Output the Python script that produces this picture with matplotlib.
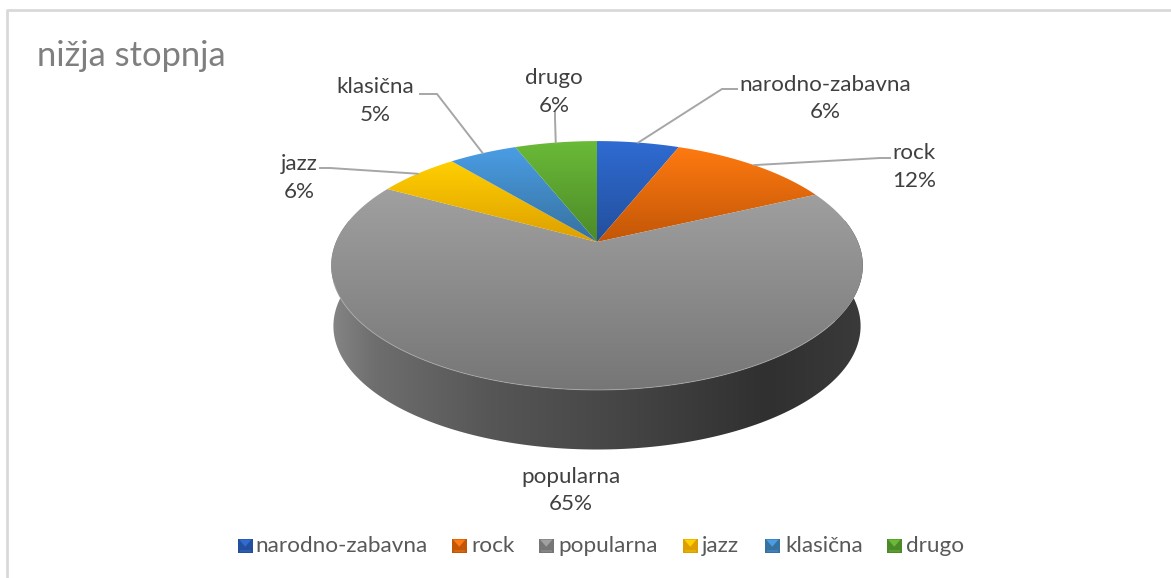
import numpy as np
import matplotlib
matplotlib.use('Agg')
import matplotlib.pyplot as plt
from matplotlib.patches import Polygon, Rectangle
from matplotlib.colors import LinearSegmentedColormap

plt.rcParams['font.family'] = ['Lato', 'DejaVu Sans']

# data
title = 'nižja stopnja'
categories = ['narodno-zabavna', 'rock', 'popularna', 'jazz', 'klasična', 'drugo']
values = [6, 12, 65, 6, 5, 6]

# colours of each slice (top of gradient, bottom of gradient)
top_cols = ['#2f6bd2', '#ff7a10', '#a0a0a0', '#ffcf00', '#4a9de4', '#6aba38']
bot_cols = ['#234f9c', '#c25607', '#767676', '#dd9f00', '#37719f', '#4c8a28']
leg_cols = ['#2a5caf', '#d9660c', '#858585', '#e6b000', '#3f80bd', '#5a9e30']

# pie geometry in pixels
cx, cy = 597, 242
rx, ry, persp = 261, 120, 0.189
depth = 61

# label text centres and elbows, same order as categories
label_xy = [(825, 98.5), (914, 167), (571, 490.5), (299, 178), (375, 101), (554, 92)]
elbow_xy = [(722, 89), (880, 158), None, (330, 168), (437, 94), (555, 118)]
end_xy = [(737, 89), (890, 158), None, (320, 168), (420, 94), (555, 112)]
leg_box_x = [238, 452, 539, 683, 765, 887]
leg_txt_x = [255, 471, 558, 702, 785, 906]


def project(theta, r=1.0, dy=0.0):
    # theta clockwise from 12 o'clock
    u = r * np.sin(theta)
    v = r * np.cos(theta)
    w = 1 + persp * v
    return cx + rx * u / w, cy - ry * v / w + dy


def grad_fill(ax, poly, stops, horizontal=False):
    xs, ys = poly[:, 0], poly[:, 1]
    cmap = LinearSegmentedColormap.from_list('g', stops)
    g = np.linspace(0, 1, 256)
    g = g.reshape(1, -1) if horizontal else g.reshape(-1, 1)
    patch = Polygon(poly, closed=True, fc='none', ec='none')
    ax.add_patch(patch)
    im = ax.imshow(g, cmap=cmap, aspect='auto', origin='upper', interpolation='bilinear',
                   extent=[xs.min(), xs.max(), ys.max(), ys.min()], zorder=2)
    im.set_clip_path(patch)


fig = plt.figure(figsize=(11.71, 5.78), dpi=100)
ax = fig.add_axes([0, 0, 1, 1])

# chart border, only the top and left show in the picture
ax.plot([7, 7, 1171], [578, 10, 10], color='#d9d9d9', lw=2, zorder=1)

# side wall of the disc
th_front = np.linspace(np.pi * 0.44, np.pi * 1.56, 300)
x1, y1 = project(th_front)
x2, y2 = project(th_front, 0.992, depth)
wall = np.vstack([np.column_stack([x1, y1]), np.column_stack([x2, y2])[::-1]])
grad_fill(ax, wall, [(0, '#858585'), (0.08, '#6e6e6e'), (0.3, '#565656'),
                     (0.55, '#454545'), (0.82, '#303030'), (1, '#3a3a3a')], horizontal=True)

# top faces
angles = np.cumsum([0] + values) / sum(values) * 2 * np.pi
mids = (angles[:-1] + angles[1:]) / 2
for i in range(len(values)):
    th = np.linspace(angles[i], angles[i + 1], 200)
    x, y = project(th)
    poly = np.vstack([[cx, cy], np.column_stack([x, y])])
    grad_fill(ax, poly, [top_cols[i], bot_cols[i]])

# light rim at the front edge
th_rim = np.linspace(np.pi * 0.7, np.pi * 1.4, 200)
xr, yr = project(th_rim)
ax.plot(xr, yr, color='#b5b5b5', lw=0.7, alpha=0.6, zorder=3)

# labels and leader lines
for i, name in enumerate(categories):
    ax.text(label_xy[i][0], label_xy[i][1], f'{name}\n{values[i]}%', ha='center', va='center',
            fontsize=16.1, color='#404040', linespacing=1.47, zorder=5)
    if elbow_xy[i] is not None:
        ax0, ay0 = project(mids[i])
        ax.plot([ax0, elbow_xy[i][0], end_xy[i][0]], [ay0, elbow_xy[i][1], end_xy[i][1]],
                color='#a6a6a6', lw=1.4, zorder=4, solid_joinstyle='miter')

# legend
for i, name in enumerate(categories):
    bx = leg_box_x[i]
    by = 538.5
    s = 14.5
    ax.add_patch(Rectangle((bx, by), s, s, fc=bot_cols[i], ec='none', zorder=4))
    ax.add_patch(Polygon([(bx + 1, by + 1), (bx + s - 1, by + 1), (bx + s / 2, by + s / 2 + 1)],
                         closed=True, fc=top_cols[i], ec='none', zorder=5))
    ax.add_patch(Rectangle((bx + 2, by + s - 3), s - 4, 2, fc=leg_cols[i], ec='none', zorder=5))
    ax.text(leg_txt_x[i], 546, name, ha='left', va='center', fontsize=16.2, color='#595959', zorder=5)

ax.text(37, 56, title, ha='left', va='center', fontsize=24.8, color='#7f7f7f', zorder=5)

ax.set_xlim(0, 1171)
ax.set_ylim(578, 0)
ax.axis('off')
fig.savefig('out.png', dpi=100, facecolor='white')
